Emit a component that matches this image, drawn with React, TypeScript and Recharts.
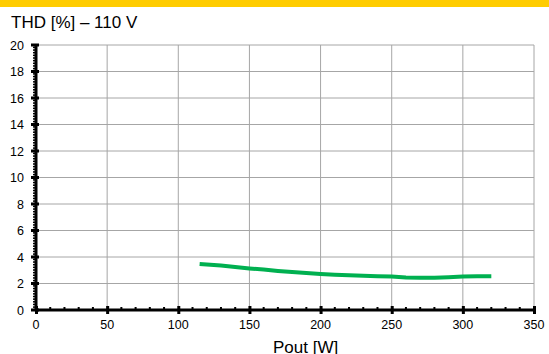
import { CartesianGrid, Line, LineChart, XAxis, YAxis } from "recharts";

// THD at 110 V input vs output power
const POUT = [115, 120, 130, 140, 150, 160, 170, 180, 190, 200, 210, 220, 230, 240, 250, 260, 270, 280, 290, 300, 310, 320];
const THD = [3.48, 3.44, 3.35, 3.25, 3.14, 3.05, 2.95, 2.87, 2.79, 2.72, 2.66, 2.62, 2.58, 2.55, 2.52, 2.46, 2.44, 2.44, 2.48, 2.53, 2.54, 2.54];

const X_MAJOR = [0, 50, 100, 150, 200, 250, 300, 350];
const Y_MAJOR = [0, 2, 4, 6, 8, 10, 12, 14, 16, 18, 20];

const X_MINOR: number[] = [];
for (let v = 0; v <= 350; v += 10) X_MINOR.push(v);
const Y_MINOR: number[] = [];
for (let i = 0; i <= 100; i++) Y_MINOR.push(Math.round(i * 2) / 10);

const data = POUT.map((p, i) => ({ pout: p, thd: THD[i] }));

const FONT = "'Liberation Sans', Arial, sans-serif";

function XTick(props: any) {
  const { x, y, payload } = props;
  const major = payload.value % 50 === 0;
  if (!major) return <rect x={x - 1} y={y - 3} width={2} height={2} fill="#000" />;
  return (
    <g>
      <rect x={x - 1} y={y - 4} width={3} height={8} fill="#000" />
      <text x={x} y={y + 19} textAnchor="middle" fontSize={12.5} fontFamily={FONT} fill="#000">
        {payload.value}
      </text>
    </g>
  );
}

function YTick(props: any) {
  const { x, y, payload } = props;
  const v = Math.round(payload.value * 10);
  const major = v % 20 === 0;
  if (!major) return <rect x={x - 3} y={y - 1} width={2} height={1.5} fill="#000" />;
  return (
    <g>
      <rect x={x - 5} y={y - 1.5} width={8} height={3} fill="#000" />
      <text x={x - 12} y={y + 4.5} textAnchor="end" fontSize={12.5} fontFamily={FONT} fill="#000">
        {payload.value}
      </text>
    </g>
  );
}

export default function App() {
  return (
    <div style={{ position: "fixed", left: 0, top: 0, width: 549, height: 354, background: "#fff", fontFamily: FONT, overflow: "hidden" }}>
      <div style={{ position: "absolute", left: 0, top: 0, width: 549, height: 7, background: "#ffcc00" }} />
      <div style={{ position: "absolute", left: 11, top: 12.5, fontSize: 17, color: "#000", whiteSpace: "nowrap" }}>
        THD [%] – 110 V
      </div>
      <div style={{ position: "absolute", left: 0, top: 0 }}>
        <LineChart width={549} height={354} data={data} margin={{ top: 45, right: 15, bottom: 0, left: 0 }}>
          <CartesianGrid
            stroke="#a6a6a6"
            strokeWidth={1}
            horizontalValues={Y_MAJOR}
            verticalValues={X_MAJOR}
          />
          <XAxis
            dataKey="pout"
            type="number"
            domain={[0, 350]}
            ticks={X_MINOR}
            interval={0}
            height={44}
            tickSize={0}
            tickMargin={0}
            tickLine={false}
            axisLine={{ stroke: "#000", strokeWidth: 3 }}
            tick={<XTick />}
            allowDataOverflow
          />
          <YAxis
            type="number"
            domain={[0, 20]}
            ticks={Y_MINOR}
            interval={0}
            width={36}
            tickSize={0}
            tickMargin={0}
            tickLine={false}
            axisLine={{ stroke: "#000", strokeWidth: 3 }}
            tick={<YTick />}
            allowDataOverflow
          />
          <Line
            dataKey="thd"
            type="linear"
            stroke="#00b050"
            strokeWidth={4}
            dot={false}
            isAnimationActive={false}
          />
        </LineChart>
      </div>
      <div style={{ position: "absolute", left: 273, top: 337.5, fontSize: 17, color: "#000", whiteSpace: "nowrap" }}>
        Pout [W]
      </div>
    </div>
  );
}
